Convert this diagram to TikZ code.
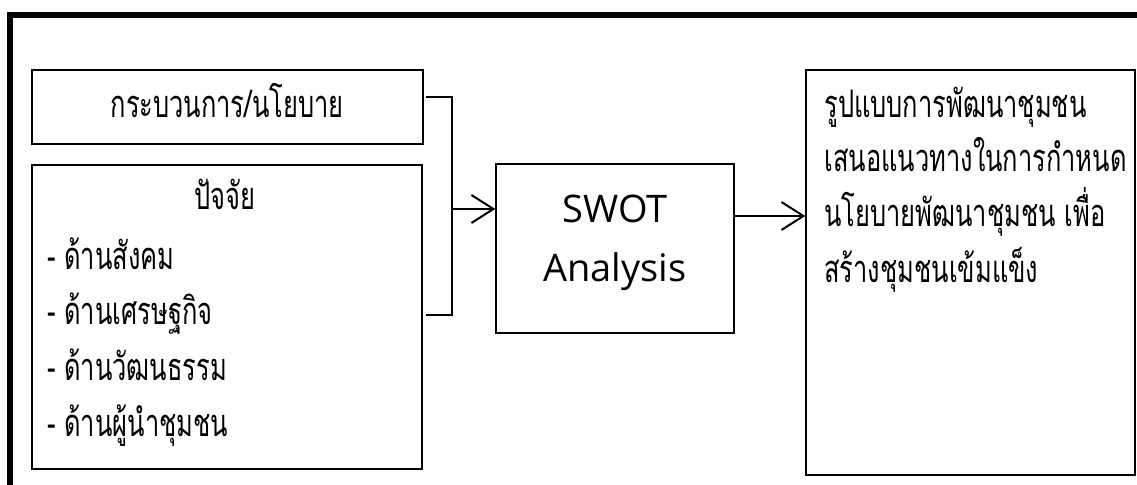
\documentclass[tikz,border=0pt]{standalone}
\usepackage{fontspec}
\setmainfont[Script=Thai,FakeStretch=0.67]{Loma}
\newfontfamily\latinfont{Open Sans}
\usepackage{tikz}
\usetikzlibrary{arrows.meta}

\begin{document}
\begin{tikzpicture}[x=0.5pt,y=-0.5pt,
	box/.style={draw,line width=0.7pt,inner sep=0pt},
	txt/.style={inner sep=0pt,font=\fontsize{19}{22}\selectfont},
	swottxt/.style={inner sep=0pt,font=\latinfont\fontsize{19}{22}\selectfont},
	link/.style={line width=1pt},
	>={Straight Barb[length=11pt,width=14pt,line width=1pt]}
	]
	\useasboundingbox (0,0) rectangle (1137,485);
	% frame
	\draw[line width=3pt] (10,485) -- (10,15) -- (1137,15);
	% boxes
	\node[box,minimum width=195.5pt,minimum height=37pt] (policy) at (227.5,107) {};
	\node[box,minimum width=195pt,minimum height=152pt] (factor) at (227,317) {};
	\node[box,minimum width=119pt,minimum height=84.5pt] (swot) at (615,248.5) {};
	\node[box,minimum width=164.5pt,minimum height=202.5pt] (result) at (970.5,272.5) {};
	% texts
	\node[txt,anchor=base] (policyText) at (227,118) {กระบวนการ/นโยบาย};
	\node[txt,anchor=base] (factorTitle) at (225,210) {ปัจจัย};
	\node[txt,anchor=base west] (social) at (47,270) {- ด้านสังคม};
	\node[txt,anchor=base west] (economy) at (47,325) {- ด้านเศรษฐกิจ};
	\node[txt,anchor=base west] (culture) at (47,381) {- ด้านวัฒนธรรม};
	\node[txt,anchor=base west] (leader) at (47,437) {- ด้านผู้นำชุมชน};
	\node[swottxt,anchor=base] (swotA) at (615,223) {SWOT};
	\node[swottxt,anchor=base] (swotB) at (615,282) {Analysis};
	\node[txt,anchor=base west] (line1) at (824,118) {รูปแบบการพัฒนาชุมชน};
	\node[txt,anchor=base west] (line2) at (824,172) {เสนอแนวทางในการกำหนด};
	\node[txt,anchor=base west] (line3) at (824,227) {นโยบายพัฒนาชุมชน เพื่อ};
	\node[txt,anchor=base west] (line4) at (824,283) {สร้างชุมชนเข้มแข็ง};
	% connectors
	\coordinate (joinTop) at (452,97);
	\coordinate (joinBot) at (452,315);
	\coordinate (joinOut) at (452,209);
	\draw[link] ([xshift=1pt]policy.east |- joinTop) -- (joinTop) -- (joinBot) -- ([xshift=1.5pt]factor.east |- joinBot);
	\draw[link,->] (joinOut) -- (swot.west |- joinOut);
	\draw[link,->] (swot.east |- 0,216) -- (result.west |- 0,216);
\end{tikzpicture}
\end{document}
